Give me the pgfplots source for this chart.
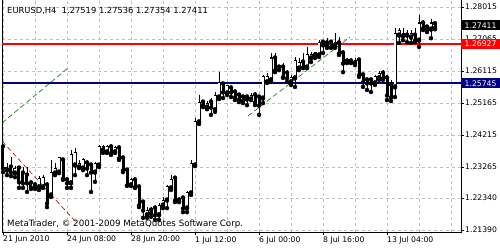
\documentclass[border=0pt]{standalone}
\usepackage{fontspec}
\setmainfont{DejaVu Sans}
\usepackage{pgfplots}
\usepackage{pgfplotstable}
\pgfplotsset{compat=1.18}
\definecolor{mtnavy}{HTML}{000080}
\definecolor{mtred}{HTML}{FF0000}
\definecolor{mtgrid}{HTML}{C0C0C0}

\pgfplotstableread{
i O H L C
0 1.2386 1.2395 1.2311 1.2323
1 1.2317 1.2338 1.2302 1.2326
2 1.2326 1.2356 1.2299 1.2311
3 1.2308 1.2329 1.2296 1.2323
4 1.2323 1.2329 1.2264 1.2282
5 1.2308 1.2326 1.2264 1.2279
6 1.2302 1.2326 1.2252 1.2279
7 1.2279 1.2282 1.2261 1.2267
8 1.2273 1.2276 1.2261 1.2267
9 1.2267 1.2299 1.2258 1.2293
10 1.2267 1.2302 1.2264 1.2296
11 1.2273 1.2282 1.2207 1.2219
12 1.2243 1.2347 1.2237 1.2311
13 1.2308 1.2338 1.2302 1.2323
14 1.2311 1.2356 1.2308 1.2353
15 1.2347 1.2353 1.2288 1.2293
16 1.2288 1.2293 1.2264 1.2279
17 1.2279 1.2377 1.2264 1.2362
18 1.2332 1.2383 1.2302 1.2368
19 1.2326 1.2347 1.2323 1.2338
20 1.2323 1.2353 1.2317 1.2347
21 1.2338 1.2347 1.2302 1.2323
22 1.2332 1.2338 1.2252 1.2311
23 1.2311 1.2341 1.2282 1.2338
24 1.2332 1.2392 1.2326 1.2386
25 1.2377 1.2392 1.2368 1.2386
26 1.2371 1.2392 1.2368 1.2386
27 1.2386 1.2392 1.2362 1.2368
28 1.2371 1.2389 1.2368 1.2383
29 1.2383 1.2389 1.2347 1.2353
30 1.2353 1.2356 1.2311 1.2317
31 1.2317 1.2323 1.2270 1.2273
32 1.2273 1.2293 1.2270 1.2288
33 1.2288 1.2293 1.2264 1.2267
34 1.2267 1.2273 1.2207 1.2213
35 1.2222 1.2228 1.2175 1.2198
36 1.2184 1.2207 1.2175 1.2198
37 1.2198 1.2207 1.2178 1.2190
38 1.2204 1.2213 1.2169 1.2184
39 1.2184 1.2219 1.2169 1.2213
40 1.2213 1.2237 1.2204 1.2228
41 1.2228 1.2273 1.2204 1.2267
42 1.2264 1.2302 1.2258 1.2288
43 1.2293 1.2299 1.2222 1.2228
44 1.2228 1.2237 1.2222 1.2225
45 1.2234 1.2240 1.2192 1.2204
46 1.2204 1.2255 1.2192 1.2249
47 1.2249 1.2347 1.2243 1.2338
48 1.2332 1.2472 1.2329 1.2460
49 1.2460 1.2540 1.2454 1.2519
50 1.2519 1.2525 1.2504 1.2510
51 1.2504 1.2522 1.2498 1.2516
52 1.2519 1.2531 1.2481 1.2504
53 1.2496 1.2549 1.2490 1.2540
54 1.2534 1.2608 1.2528 1.2576
55 1.2573 1.2576 1.2531 1.2549
56 1.2546 1.2567 1.2540 1.2567
57 1.2561 1.2564 1.2534 1.2549
58 1.2549 1.2555 1.2525 1.2534
59 1.2540 1.2546 1.2519 1.2528
60 1.2534 1.2540 1.2516 1.2525
61 1.2534 1.2540 1.2510 1.2528
62 1.2528 1.2546 1.2525 1.2540
63 1.2540 1.2549 1.2510 1.2519
64 1.2534 1.2540 1.2481 1.2510
65 1.2531 1.2600 1.2516 1.2594
66 1.2579 1.2605 1.2576 1.2594
67 1.2585 1.2665 1.2579 1.2650
68 1.2650 1.2665 1.2608 1.2614
69 1.2623 1.2626 1.2614 1.2617
70 1.2623 1.2635 1.2591 1.2594
71 1.2605 1.2614 1.2579 1.2591
72 1.2579 1.2600 1.2570 1.2591
73 1.2591 1.2653 1.2564 1.2644
74 1.2620 1.2650 1.2614 1.2638
75 1.2638 1.2665 1.2620 1.2623
76 1.2623 1.2683 1.2620 1.2659
77 1.2650 1.2668 1.2638 1.2659
78 1.2659 1.2668 1.2650 1.2665
79 1.2659 1.2703 1.2653 1.2697
80 1.2697 1.2703 1.2665 1.2689
81 1.2695 1.2709 1.2680 1.2689
82 1.2697 1.2703 1.2680 1.2683
83 1.2686 1.2724 1.2680 1.2695
84 1.2695 1.2712 1.2659 1.2665
85 1.2665 1.2674 1.2608 1.2635
86 1.2641 1.2650 1.2635 1.2638
87 1.2641 1.2650 1.2635 1.2638
88 1.2635 1.2650 1.2629 1.2644
89 1.2644 1.2650 1.2594 1.2600
90 1.2600 1.2605 1.2564 1.2579
91 1.2585 1.2591 1.2555 1.2576
92 1.2585 1.2588 1.2549 1.2576
93 1.2576 1.2600 1.2570 1.2594
94 1.2591 1.2611 1.2585 1.2605
95 1.2605 1.2614 1.2585 1.2591
96 1.2591 1.2600 1.2525 1.2540
97 1.2570 1.2585 1.2522 1.2534
98 1.2564 1.2739 1.2534 1.2724
99 1.2718 1.2739 1.2695 1.2733
100 1.2715 1.2739 1.2703 1.2724
101 1.2718 1.2733 1.2697 1.2724
102 1.2712 1.2733 1.2695 1.2724
103 1.2718 1.2739 1.2697 1.2703
104 1.2703 1.2778 1.2683 1.2754
105 1.2754 1.2763 1.2733 1.2739
106 1.2742 1.2748 1.2727 1.2736
107 1.2736 1.2766 1.2709 1.2754
108 1.27519 1.27536 1.27354 1.27411
}\candles

\newcommand{\tickfont}{\fontsize{7.7}{9}\selectfont}

\begin{document}
\begin{tikzpicture}[x=1pt,y=1pt]
\useasboundingbox (0,0) rectangle (500,250);
\fill[white] (0,0) rectangle (500,250);
\begin{axis}[
  at={(2pt,18pt)}, anchor=south west, scale only axis,
  width=459pt, height=233pt,
  xmin=-0.25, xmax=114.5, ymin=1.21330, ymax=1.28253,
  clip=false,
  axis line style={black, line width=0.8pt},
  xtick={0,16,32,48,64,80,96},
  xticklabels={21 Jun 2010, 24 Jun 08:00, 28 Jun 20:00, 1 Jul 12:00, 6 Jul 00:00, 8 Jul 16:00, 13 Jul 04:00},
  minor xtick={8,24,40,56,72,88,104,112},
  xtick pos=bottom, ytick pos=right, yticklabel pos=right,
  tick align=outside, major tick length=3pt, minor tick length=0pt,
  tick style={black, line width=0.7pt},
  xticklabel style={anchor=north west, xshift=-1pt, font=\tickfont, inner sep=1pt},
  ytick={1.21390,1.22340,1.23265,1.24215,1.25165,1.26115,1.27065,1.28015},
  yticklabels={1.21390,1.22340,1.23265,1.24215,1.25165,1.26115,1.27065,1.28015},
  yticklabel style={anchor=west, font=\tickfont, inner sep=1pt},
  xmajorgrids, xminorgrids, ymajorgrids,
  grid style={mtgrid, dash pattern=on 3pt off 3pt, line width=0.7pt},
  minor grid style={mtgrid, dash pattern=on 3pt off 3pt, line width=0.7pt},
  every error bar/.append style={solid},
]
% horizontal levels
\addplot[mtred, line width=2pt] coordinates {(-0.25,1.26927) (114.5,1.26927)};
\addplot[mtnavy, line width=2pt] coordinates {(-0.25,1.25745) (114.5,1.25745)};
% trend lines
\addplot[green!45!black, line width=0.6pt, dash pattern=on 5pt off 3pt] coordinates {(-0.25,1.24569) (16.25,1.26203)};
\addplot[green!45!black, line width=0.6pt, dash pattern=on 5pt off 3pt] coordinates {(61.25,1.24777) (86.75,1.27124)};
\addplot[red!75!black, line width=0.6pt, dash pattern=on 5pt off 3pt] coordinates {(-0.25,1.24034) (18.25,1.21627)};
% wicks
\addplot[only marks, mark=none,
  error bars/.cd, y dir=plus, y explicit, error mark=none,
  error bar style={draw=black, line width=0.9pt}]
  table[x=i, y=L, y error plus expr={\thisrow{H}-\thisrow{L}}] {\candles};
% bodies (black)
\addplot[only marks, mark=none,
  error bars/.cd, y dir=plus, y explicit, error mark=none,
  error bar style={draw=black, line width=3pt}]
  table[x=i, y expr={min(\thisrow{O},\thisrow{C})-0.00015},
        y error plus expr={abs(\thisrow{C}-\thisrow{O})+0.0003}] {\candles};
% bodies (white interior of bullish candles)
\addplot[only marks, mark=none,
  error bars/.cd, y dir=plus, y explicit, error mark=none,
  error bar style={draw=white, line width=1.1pt}]
  table[x=i, y expr={\thisrow{O}+0.00015},
        y error plus expr={max(\thisrow{C}-\thisrow{O}-0.0003,0)}] {\candles};
\coordinate (plast) at (axis cs:114.5,1.27411);
\coordinate (pred) at (axis cs:114.5,1.26927);
\coordinate (pblue) at (axis cs:114.5,1.25745);
\node[anchor=west, font=\fontsize{8.35}{10}\selectfont, inner sep=0pt] at (axis description cs:0.011,0.948) {EURUSD,H4\ \ 1.27519 1.27536 1.27354 1.27411};
\node[anchor=west, font=\fontsize{8.7}{10}\selectfont, inner sep=0pt] at (axis description cs:0.011,0.034) {MetaTrader, © 2001-2009 MetaQuotes Software Corp.};
\end{axis}
\node[anchor=west, fill=black, text=white, font=\tickfont, inner xsep=3.5pt, inner ysep=1.5pt, minimum height=10pt, yshift=2pt] at (plast) {1.27411};
\node[anchor=west, fill=mtred, text=white, font=\tickfont, inner xsep=3.5pt, inner ysep=1.5pt, minimum height=10pt] at (pred) {1.26927};
\node[anchor=west, fill=mtnavy, text=white, font=\tickfont, inner xsep=3.5pt, inner ysep=1.5pt, minimum height=10pt] at (pblue) {1.25745};
\end{tikzpicture}
\end{document}
